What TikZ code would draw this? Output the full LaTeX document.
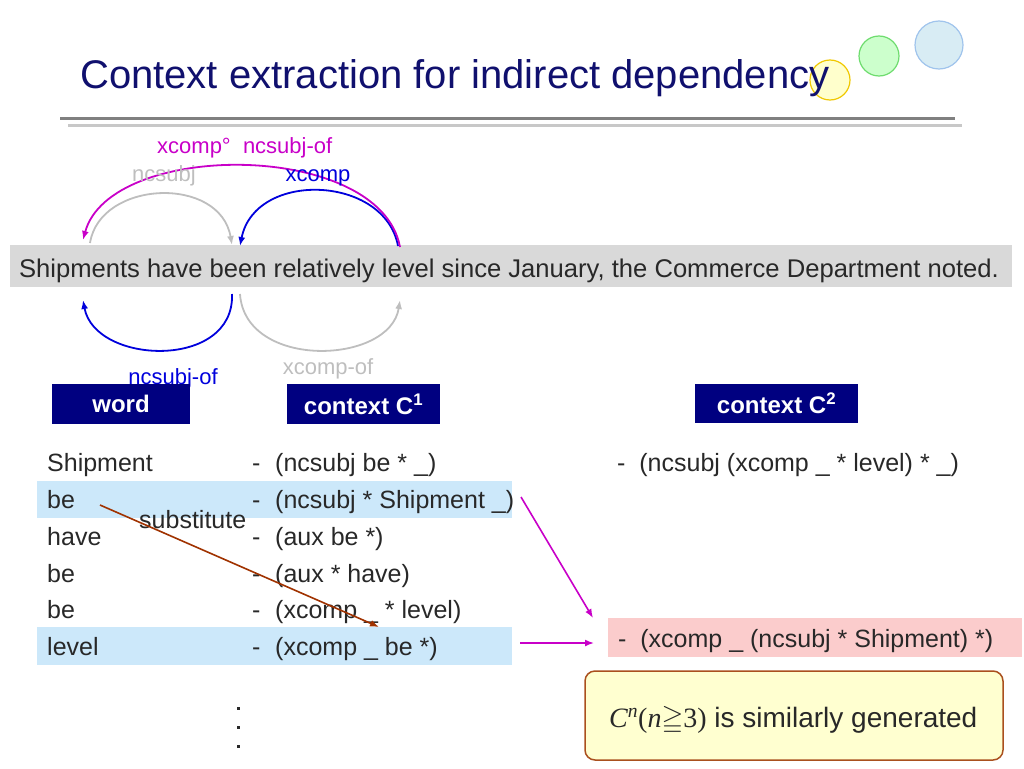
\documentclass[tikz,border=0pt]{standalone}
\usepackage{fontspec}
\usepackage{amssymb}
\setmainfont{Liberation Sans}
\newfontfamily\tnr{Liberation Serif}
\usetikzlibrary{arrows.meta}
\definecolor{titlecol}{RGB}{16,16,110}
\definecolor{navy}{RGB}{0,0,128}
\definecolor{txt}{RGB}{40,40,40}
\definecolor{mag}{RGB}{200,0,200}
\definecolor{blu}{RGB}{0,0,220}
\definecolor{gry}{RGB}{190,190,190}
\definecolor{rowblue}{RGB}{204,232,250}
\definecolor{pinkbox}{RGB}{251,204,204}
\definecolor{brownarr}{RGB}{160,50,0}
\definecolor{yelbox}{RGB}{255,255,208}
\definecolor{yelborder}{RGB}{170,80,30}
\tikzset{
  body/.style={inner sep=0pt, anchor=base west, text=txt, font=\fontsize{25}{30}\selectfont},
  lab/.style={inner sep=0pt, anchor=base, font=\fontsize{22}{26}\selectfont},
  head/.style={fill=navy, text=white, inner sep=0pt, font=\bfseries\fontsize{24}{28}\selectfont},
  arc/.style={line width=1.8pt, -{Latex[length=9pt,width=7pt]}},
  conn/.style={line width=1.6pt, -{Latex[length=9pt,width=7pt]}},
  dotsq/.style={fill=txt, draw=none, minimum size=3pt, inner sep=0pt}
}
\begin{document}
\begin{tikzpicture}[x=1pt,y=-1pt]
\useasboundingbox (0,0) rectangle (1024,768);
% decorative circles
\node[circle, draw={rgb,255:red,240;green,200;blue,0}, fill={rgb,255:red,255;green,255;blue,204}, line width=1.2pt, minimum size=40pt, inner sep=0pt] (cy) at (830,80) {};
\node[circle, draw={rgb,255:red,110;green,220;blue,110}, fill={rgb,255:red,204;green,255;blue,204}, line width=1.2pt, minimum size=40pt, inner sep=0pt] (cg) at (879,56) {};
\node[circle, draw={rgb,255:red,160;green,196;blue,236}, fill={rgb,255:red,216;green,236;blue,244}, line width=1.2pt, minimum size=48pt, inner sep=0pt] (cb) at (939,45) {};
% title
\node[inner sep=0pt, anchor=base west, text=titlecol, font=\fontsize{40}{46}\selectfont] (title) at (80,88) {Context extraction for indirect dependency};
% rules
\draw[line width=3pt, color={rgb,255:red,128;green,128;blue,128}] (60,118) -- (955,118);
\draw[line width=3pt, color={rgb,255:red,200;green,200;blue,200}] (68,125.5) -- (962,125.5);
% sentence
\node[fill={rgb,255:red,217;green,217;blue,217}, minimum width=1002pt, minimum height=42pt, inner sep=0pt] (sent) at (511,266) {};
\node[inner sep=0pt, anchor=base, text=txt, font=\fontsize{25.6}{30}\selectfont] (senttext) at (509,277) {Shipments have been relatively level since January, the Commerce Department noted.};
% anchor points
\coordinate (shipT) at (83,240);
\coordinate (shipTg) at (90,243);
\coordinate (beenT) at (232,245);
\coordinate (beenT2) at (240,246);
\coordinate (levelT) at (400,247);
\coordinate (levelT2) at (398,246);
\coordinate (shipB) at (83,300);
\coordinate (beenB) at (232,294);
\coordinate (beenB2) at (240,294);
\coordinate (levelB) at (400,300);
% top arcs
\draw[arc, gry] (shipTg) .. controls (100,180) and (220,175) .. (beenT);
\draw[arc, blu] (levelT2) .. controls (385,175) and (255,170) .. (beenT2);
\draw[arc, mag] (levelT) .. controls (380,140) and (110,140) .. (shipT);
% bottom arcs
\draw[arc, blu] (beenB) .. controls (235,370) and (95,365) .. (shipB);
\draw[arc, gry] (beenB2) .. controls (245,370) and (390,365) .. (levelB);
% arc labels
\node[inner sep=0pt, anchor=base west, text=mag, font=\fontsize{22}{26}\selectfont] (lxc) at (157,153) {xcomp°\ \ ncsubj-of};
\node[lab, text=gry] (lnc) at (164,181) {ncsubj};
\node[lab, text=blu] (lxcomp) at (318,181) {xcomp};
\node[lab, text=blu] (lncof) at (173,384) {ncsubj-of};
\node[lab, text=gry] (lxcof) at (328,374) {xcomp-of};
% headers
\node[head, minimum width=138pt, minimum height=40pt] (hword) at (121,404) {word};
\node[head, minimum width=153pt, minimum height=40pt] (hc1) at (363.5,404) {context C\textsuperscript{1}};
\node[head, minimum width=163pt, minimum height=39pt] (hc2) at (776.5,403.5) {context C\textsuperscript{2}};
% row highlights
\node[fill=rowblue, minimum width=475pt, minimum height=37pt, inner sep=0pt] (hl1) at (274.5,499.5) {};
\node[fill=rowblue, minimum width=475pt, minimum height=38pt, inner sep=0pt] (hl2) at (274.5,646) {};
% words
\node[body] (w1) at (47,471) {Shipment};
\node[body] (w2) at (47,508) {be};
\node[body] (w3) at (47,545) {have};
\node[body] (w4) at (47,582) {be};
\node[body] (w5) at (47,618) {be};
\node[body] (w6) at (47,655) {level};
% dashes
\node[body] (d1) at (252,471) {-};
\node[body] (d2) at (252,508) {-};
\node[body] (d3) at (252,545) {-};
\node[body] (d4) at (252,582) {-};
\node[body] (d5) at (252,618) {-};
\node[body] (d6) at (252,655) {-};
% contexts C1
\node[body] (k1) at (275,471) {(ncsubj be * \_)};
\node[body] (k2) at (275,508) {(ncsubj * Shipment \_)};
\node[body] (k3) at (275,545) {(aux be *)};
\node[body] (k4) at (275,582) {(aux * have)};
\node[body] (k5) at (275,618) {(xcomp \_ * level)};
\node[body] (k6) at (275,655) {(xcomp \_ be *)};
% substitute
\node[body] (subst) at (139,528) {substitute};
% C2 context
\node[body] (c2a) at (617,471) {-\ \ (ncsubj (xcomp \_ * level) * \_)};
% pink result
\node[fill=pinkbox, minimum width=414pt, minimum height=39pt, inner sep=0pt] (pink) at (815,637.5) {};
\node[body] (c2b) at (618,647) {-\ \ (xcomp \_ (ncsubj * Shipment) *)};
% arrows
\coordinate (bstart) at (100,505);
\coordinate (bend) at (379,627);
\draw[conn, brownarr] (bstart) -- (bend);
\coordinate (m1s) at (521,497);
\coordinate (m1e) at (593,618);
\draw[conn, mag] (m1s) -- (m1e);
\coordinate (m2s) at (520,643);
\coordinate (m2e) at (594,643);
\draw[conn, mag] (m2s) -- (m2e);
% yellow note
\node[draw=yelborder, fill=yelbox, line width=1.5pt, rounded corners=10pt, minimum width=418pt, minimum height=89pt, inner sep=0pt] (note) at (794,715.5) {};
\node[inner sep=0pt, anchor=base west, text=txt, font=\fontsize{28}{32}\selectfont] (notetext) at (609,727) {{\tnr\itshape C\textsuperscript{n}\upshape(\itshape n\upshape$\geqq$3)} is similarly generated};
% vertical dots
\node[dotsq] (v1) at (238,708) {};
\node[dotsq] (v2) at (238,727) {};
\node[dotsq] (v3) at (238,746) {};
\end{tikzpicture}
\end{document}
